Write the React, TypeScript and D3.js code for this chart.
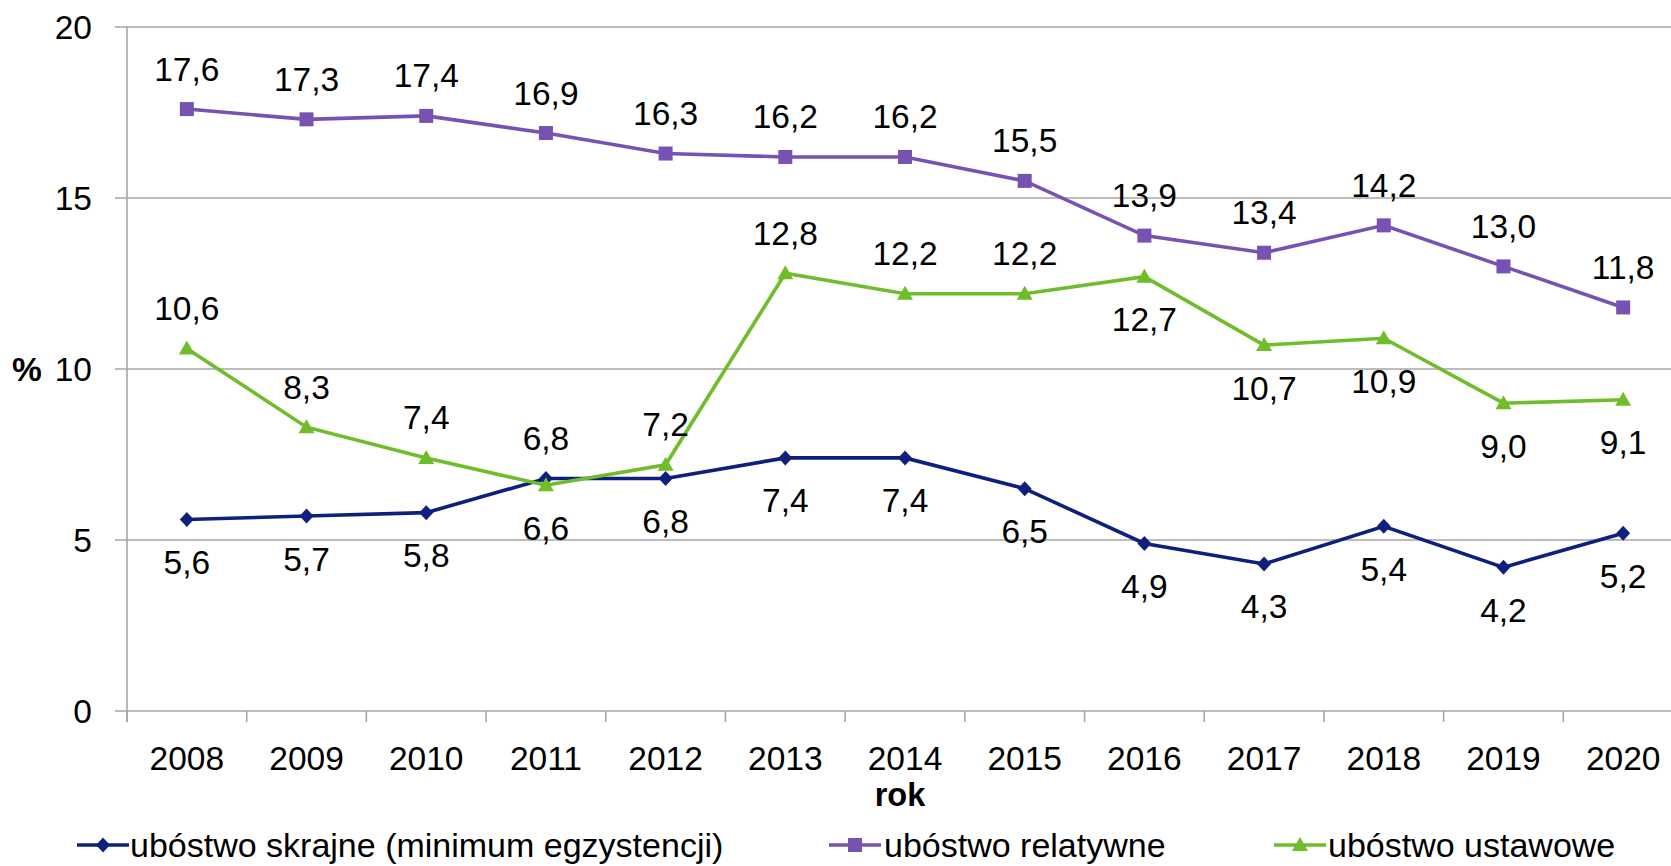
import React from "react";
import * as d3 from "d3";

// chart data
const years = ["2008", "2009", "2010", "2011", "2012", "2013", "2014", "2015", "2016", "2017", "2018", "2019", "2020"];
const skrajne = [5.6, 5.7, 5.8, 6.8, 6.8, 7.4, 7.4, 6.5, 4.9, 4.3, 5.4, 4.2, 5.2];
const relatywne = [17.6, 17.3, 17.4, 16.9, 16.3, 16.2, 16.2, 15.5, 13.9, 13.4, 14.2, 13.0, 11.8];
const ustawowe = [10.6, 8.3, 7.4, 6.6, 7.2, 12.8, 12.2, 12.2, 12.7, 10.7, 10.9, 9.0, 9.1];
// label placement: 1 = above point, -1 = below
const skrajnePos = [-1, -1, -1, 1, -1, -1, -1, -1, -1, -1, -1, -1, -1];
const relatywnePos = [1, 1, 1, 1, 1, 1, 1, 1, 1, 1, 1, 1, 1];
const ustawowePos = [1, 1, 1, -1, 1, 1, 1, 1, -1, -1, -1, -1, -1];
const yTicks = [0, 5, 10, 15, 20];

const series = [
  { name: "ubóstwo skrajne (minimum egzystencji)", values: skrajne, pos: skrajnePos, color: "#0f1f7d", marker: "diamond" },
  { name: "ubóstwo relatywne", values: relatywne, pos: relatywnePos, color: "#7852b2", marker: "square" },
  { name: "ubóstwo ustawowe", values: ustawowe, pos: ustawowePos, color: "#6fbd2b", marker: "triangle" },
];

const W = 1671;
const H = 866;
const left = 127;
const right = 1683;
const top = 27;
const bottom = 711;
const font = "'Liberation Sans', Arial, sans-serif";
const fs = 33.5;

const x = d3.scaleBand<string>().domain(years).range([left, right]).padding(0);
const y = d3.scaleLinear().domain([0, 20]).range([bottom, top]);
const cx = (yr: string) => (x(yr) as number) + x.bandwidth() / 2;

const Marker = ({ kind, px, py, color }: { kind: string; px: number; py: number; color: string }) => {
  if (kind === "square") return <rect x={px - 7} y={py - 7} width={14} height={14} fill={color} />;
  if (kind === "diamond")
    return <path d={`M${px},${py - 7.5}L${px + 7},${py}L${px},${py + 7.5}L${px - 7},${py}Z`} fill={color} />;
  return <path d={`M${px},${py - 8}L${px + 8},${py + 6}L${px - 8},${py + 6}Z`} fill={color} />;
};

const legendItems = [
  { lx: 77, tx: 130 },
  { lx: 829, tx: 884 },
  { lx: 1274, tx: 1328 },
];

export default function App() {
  const line = d3
    .line<number>()
    .x((_, i) => cx(years[i]))
    .y((d) => y(d));

  const bounds = d3.range(years.length + 1).map((i) => left + i * x.bandwidth());

  return (
    <div style={{ position: "absolute", left: 0, top: 0 }}>
      <svg width={W} height={H} style={{ display: "block", background: "#fff" }} fontFamily={font}>
        {/* gridlines */}
        {yTicks.map((t) => (
          <g key={t}>
            <line x1={115} x2={W} y1={y(t)} y2={y(t)} stroke="#a6a6a6" strokeWidth={1.6} />
            <text x={92} y={y(t)} textAnchor="end" dominantBaseline="central" fontSize={fs}>
              {t}
            </text>
          </g>
        ))}
        {/* y axis */}
        <line x1={left} x2={left} y1={top} y2={bottom + 11} stroke="#a6a6a6" strokeWidth={1.6} />
        {bounds.map((b, i) => (
          <line key={i} x1={b} x2={b} y1={bottom} y2={bottom + 11} stroke="#a6a6a6" strokeWidth={1.6} />
        ))}
        {years.map((yr) => (
          <text key={yr} x={cx(yr)} y={758} textAnchor="middle" dominantBaseline="central" fontSize={fs}>
            {yr}
          </text>
        ))}
        <text x={900} y={795} textAnchor="middle" dominantBaseline="central" fontSize={fs - 1} fontWeight="bold">
          rok
        </text>
        <text x={27} y={y(10)} textAnchor="middle" dominantBaseline="central" fontSize={fs} fontWeight="bold">
          %
        </text>

        {series.map((s) => (
          <g key={s.name}>
            <path d={line(s.values) as string} fill="none" stroke={s.color} strokeWidth={3.6} />
            {s.values.map((v, i) => (
              <Marker key={i} kind={s.marker} px={cx(years[i])} py={y(v)} color={s.color} />
            ))}
            {s.values.map((v, i) => (
              <text
                key={"l" + i}
                x={cx(years[i])}
                y={y(v) + (s.pos[i] > 0 ? -40 : 43)}
                textAnchor="middle"
                dominantBaseline="central"
                fontSize={fs}
              >
                {v.toFixed(1).replace(".", ",")}
              </text>
            ))}
          </g>
        ))}

        {/* legend */}
        {series.map((s, i) => {
          const it = legendItems[i];
          const ly = 845;
          return (
            <g key={"leg" + i}>
              <line x1={it.lx} x2={it.lx + 52} y1={ly} y2={ly} stroke={s.color} strokeWidth={3.6} />
              <Marker kind={s.marker} px={it.lx + 26} py={ly} color={s.color} />
              <text x={it.tx} y={ly} dominantBaseline="central" fontSize={34}>
                {s.name}
              </text>
            </g>
          );
        })}
      </svg>
    </div>
  );
}
